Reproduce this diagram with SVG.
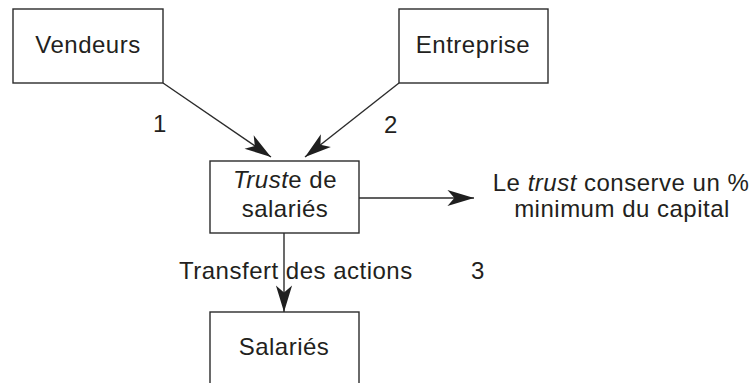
<svg xmlns="http://www.w3.org/2000/svg" width="750" height="383" viewBox="0 0 750 383">
  <style>
    .box { fill: #ffffff; stroke: #2b2b2b; stroke-width: 1.4; }
    .lbl { font-family: "Liberation Sans", Arial, sans-serif; font-size: 24px; letter-spacing: 0.5px; fill: #231f20; }
    .mid { text-anchor: middle; }
    .it { font-style: italic; }
    .edge { fill: none; stroke: #2b2b2b; stroke-width: 1.4; marker-end: url(#head); }
  </style>
  <defs>
    <marker id="head" markerUnits="userSpaceOnUse" markerWidth="30" markerHeight="20" viewBox="-24 -8 26 16" refX="0" refY="0" orient="auto">
      <path d="M0,0 L-23,-7 L-17,0 L-23,7 Z" fill="#1f1f1f"/>
    </marker>
  </defs>

  <g id="vendeurs">
    <rect class="box" x="13" y="9" width="150" height="74"/>
    <text class="lbl mid" x="88" y="53">Vendeurs</text>
  </g>

  <g id="entreprise">
    <rect class="box" x="399" y="9" width="149" height="74"/>
    <text class="lbl mid" x="473" y="53">Entreprise</text>
  </g>

  <g id="trust">
    <rect class="box" x="210" y="161" width="149" height="72"/>
    <text class="lbl mid" x="285" y="188"><tspan class="it">Trust</tspan>e de</text>
    <text class="lbl mid" x="285" y="217">salariés</text>
  </g>

  <g id="salaries">
    <rect class="box" x="210" y="312" width="149" height="80"/>
    <text class="lbl mid" x="284" y="355">Salariés</text>
  </g>

  <g id="capital-note">
    <text class="lbl mid" x="621" y="191">Le <tspan class="it">trust</tspan> conserve un %</text>
    <text class="lbl mid" x="622" y="217">minimum du capital</text>
  </g>

  <g id="connectors">
    <path class="edge" d="M163,83 L271,157"/>
    <path class="edge" d="M399,83 L305,157"/>
    <path class="edge" d="M359,198 L474,198"/>
    <path class="edge" d="M284,233 L284,312"/>
    <text class="lbl mid" x="160" y="132">1</text>
    <text class="lbl mid" x="391" y="133">2</text>
    <text class="lbl mid" x="478" y="279">3</text>
    <text class="lbl" x="179" y="279">Transfert des actions</text>
  </g>
</svg>
